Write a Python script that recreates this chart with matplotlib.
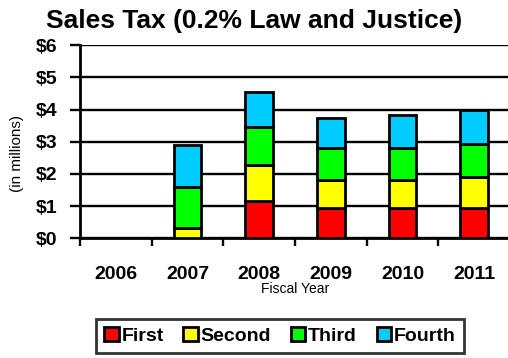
import numpy as np
from matplotlib import pyplot as plt

plt.rcParams['font.family'] = ['Liberation Sans', 'DejaVu Sans']

years = ['2006', '2007', '2008', '2009', '2010', '2011']
quarters = ['First', 'Second', 'Third', 'Fourth']
colors = ['#ff0000', '#ffff00', '#00ff00', '#00ccff']

# quarterly collections, $ millions
first = [0.0, 0.0, 1.16, 0.93, 0.93, 0.93]
second = [0.0, 0.31, 1.12, 0.88, 0.88, 0.98]
third = [0.0, 1.29, 1.19, 0.99, 1.00, 1.02]
fourth = [0.0, 1.30, 1.08, 0.95, 1.02, 1.06]

fig = plt.figure(figsize=(5.08, 3.58), dpi=100)
ax = fig.add_axes([80 / 508, 0.334, 430 / 508, 0.54])

x = np.arange(len(years))
bottom = np.zeros(len(years))
for name, vals, c in zip(quarters, [first, second, third, fourth], colors):
    vals = np.array(vals)
    mask = vals > 0
    ax.bar(x[mask], vals[mask], 0.39, bottom=bottom[mask], color=c,
           edgecolor='black', linewidth=2, label=name, zorder=3)
    bottom += vals

ax.set_xlim(-0.5, len(years) - 0.5)
ax.set_ylim(0, 6)
ax.set_yticks(range(7))
ax.set_yticklabels(['$%d' % v for v in range(7)], fontsize=14, fontweight='bold')
ax.yaxis.grid(True, color='black', linewidth=1.7, zorder=0)
ax.tick_params(axis='y', length=7, width=1.7, pad=9)

ax.set_xticks(x)
ax.set_xticklabels(years, fontsize=14, fontweight='bold')
ax.set_xticks(np.arange(len(years) + 1) - 0.5, minor=True)
ax.tick_params(axis='x', which='major', length=0, pad=20)
ax.tick_params(axis='x', which='minor', length=6, width=1.7)

for side in ['top', 'right']:
    ax.spines[side].set_visible(False)
ax.spines['left'].set_linewidth(2)
ax.spines['bottom'].set_linewidth(2)

ax.set_xlabel('Fiscal Year', fontsize=10, labelpad=-1)
fig.text(17 / 508, 0.57, '(in millions)', rotation=90, fontsize=11,
         ha='center', va='center')
fig.text(0.5, 0.975, 'Sales Tax (0.2% Law and Justice)', fontsize=19,
         fontweight='bold', ha='center', va='top')

leg = fig.legend(loc='center', bbox_to_anchor=(280 / 508, 1 - 336 / 358), ncol=4,
                 prop={'weight': 'bold', 'size': 14}, frameon=True, fancybox=False,
                 handlelength=0.75, handleheight=0.75, handletextpad=0.15,
                 columnspacing=1.0, borderpad=0.4, borderaxespad=0)
leg.get_frame().set_edgecolor('black')
leg.get_frame().set_linewidth(2)

plt.savefig('out.png')
